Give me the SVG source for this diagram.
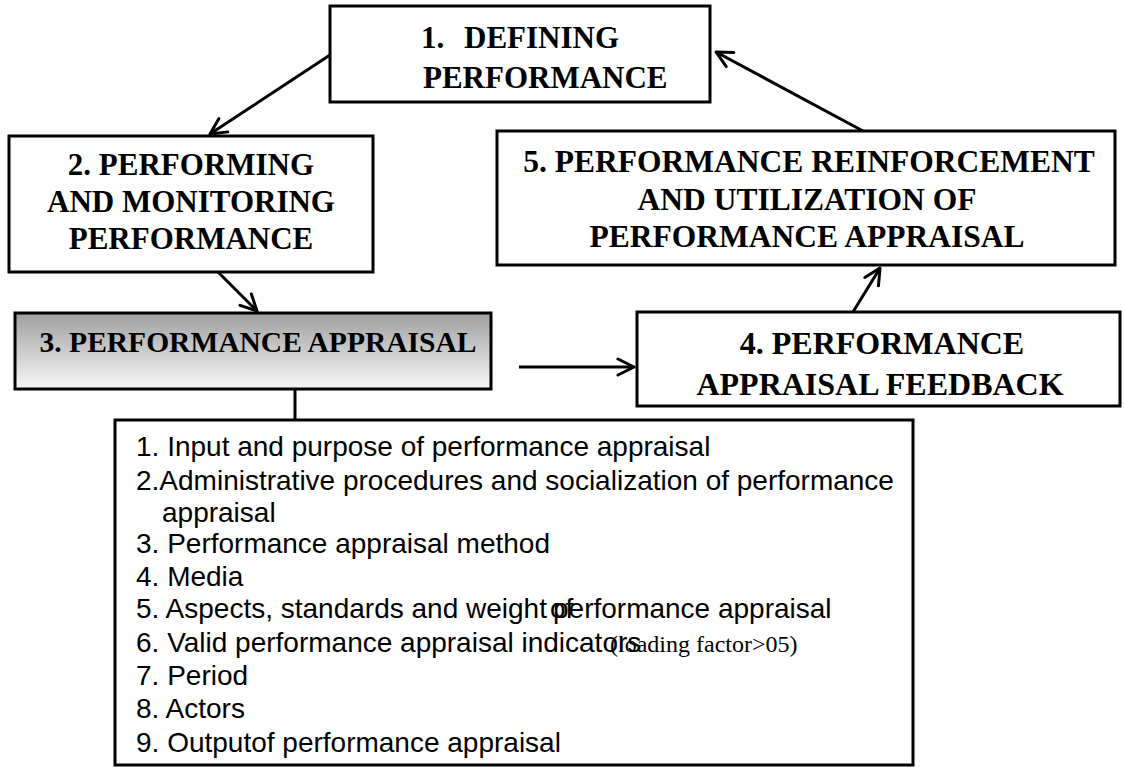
<svg xmlns="http://www.w3.org/2000/svg" width="1125" height="773" viewBox="0 0 1125 773">
  <defs>
    <linearGradient id="greyFade" x1="0" y1="0" x2="0" y2="1">
      <stop offset="0" stop-color="#9f9f9f"/>
      <stop offset="1" stop-color="#f7f7f7"/>
    </linearGradient>
    <marker id="openHead" viewBox="0 0 20 20" refX="18" refY="10" markerWidth="20" markerHeight="20" markerUnits="userSpaceOnUse" orient="auto">
      <path d="M2,2 L18,10 L2,18" fill="none" stroke="#000" stroke-width="3" stroke-linecap="round" stroke-linejoin="round"/>
    </marker>
    <!-- the lower title line of box 4 runs past its frame and is cut off -->
    <clipPath id="box4Clip">
      <rect x="637" y="312" width="483" height="89"/>
    </clipPath>
  </defs>
  <style>
    .box { fill: #fff; stroke: #000; stroke-width: 3; }
    .title { font-family: "Liberation Serif", "Times New Roman", serif; font-weight: bold; font-size: 31px; fill: #000; text-anchor: middle; }
    .left { text-anchor: start; }
    .item { font-family: "Liberation Sans", Arial, sans-serif; font-size: 28px; fill: #000; }
    .note { font-family: "Liberation Serif", "Times New Roman", serif; font-size: 24px; fill: #000; }
    .link { fill: none; stroke: #000; stroke-width: 3; }
  </style>
  <rect width="1125" height="773" fill="#fff"/>

  <g id="connectors">
    <line class="link" x1="330" y1="55" x2="210" y2="134" marker-end="url(#openHead)"/>
    <line class="link" x1="218" y1="272" x2="257" y2="311" marker-end="url(#openHead)"/>
    <line class="link" x1="519" y1="367" x2="634" y2="367" marker-end="url(#openHead)"/>
    <line class="link" x1="853" y1="312" x2="880" y2="268" marker-end="url(#openHead)"/>
    <line class="link" x1="863" y1="131" x2="716" y2="52" marker-end="url(#openHead)"/>
    <line class="link" x1="295" y1="389" x2="295" y2="420"/>
  </g>

  <g id="node-defining">
    <rect class="box" x="330" y="6" width="380" height="96"/>
    <text class="title left" x="421" y="48">1.</text>
    <text class="title left" x="464" y="48">DEFINING</text>
    <text class="title left" x="423" y="88">PERFORMANCE</text>
  </g>

  <g id="node-performing">
    <rect class="box" x="9" y="136" width="364" height="136"/>
    <text class="title" x="191" y="175">2. PERFORMING</text>
    <text class="title" x="191" y="212">AND MONITORING</text>
    <text class="title" x="191" y="249">PERFORMANCE</text>
  </g>

  <g id="node-appraisal">
    <rect x="15" y="313" width="476" height="76" fill="url(#greyFade)" stroke="#000" stroke-width="3"/>
    <text class="title" x="258" y="352" style="font-size:29.5px">3. PERFORMANCE APPRAISAL</text>
  </g>

  <g id="node-feedback">
    <rect class="box" x="637" y="312" width="483" height="94"/>
    <text class="title" x="882" y="354" style="font-size:32px">4. PERFORMANCE</text>
    <text class="title" x="880" y="395" style="font-size:32px" clip-path="url(#box4Clip)">APPRAISAL FEEDBACK</text>
  </g>

  <g id="node-reinforcement">
    <rect class="box" x="497" y="131" width="618" height="134"/>
    <text class="title" x="809" y="172" style="font-size:31.5px">5. PERFORMANCE REINFORCEMENT</text>
    <text class="title" x="807" y="210" style="font-size:31.5px">AND UTILIZATION OF</text>
    <text class="title" x="807" y="247" style="font-size:31.5px">PERFORMANCE APPRAISAL</text>
  </g>

  <g id="node-components">
    <rect class="box" x="115" y="420" width="798" height="345"/>
    <text class="item" x="136" y="456">1. Input and purpose of performance appraisal</text>
    <text class="item" x="136" y="490">2.Administrative procedures and socialization of performance</text>
    <text class="item" x="162" y="522">appraisal</text>
    <text class="item" x="136" y="553">3. Performance appraisal method</text>
    <text class="item" x="136" y="586">4. Media</text>
    <text class="item" x="136" y="618">5. Aspects, standards and weight</text>
    <text class="item" x="550" y="618">of</text>
    <text class="item" x="553" y="618">performance appraisal</text>
    <text class="item" x="136" y="652">6. Valid performance appraisal indicators</text>
    <text class="note" x="610" y="652">(loading factor&gt;05)</text>
    <text class="item" x="136" y="685">7. Period</text>
    <text class="item" x="136" y="718">8. Actors</text>
    <text class="item" x="136" y="752">9. Outputof performance appraisal</text>
  </g>
</svg>
